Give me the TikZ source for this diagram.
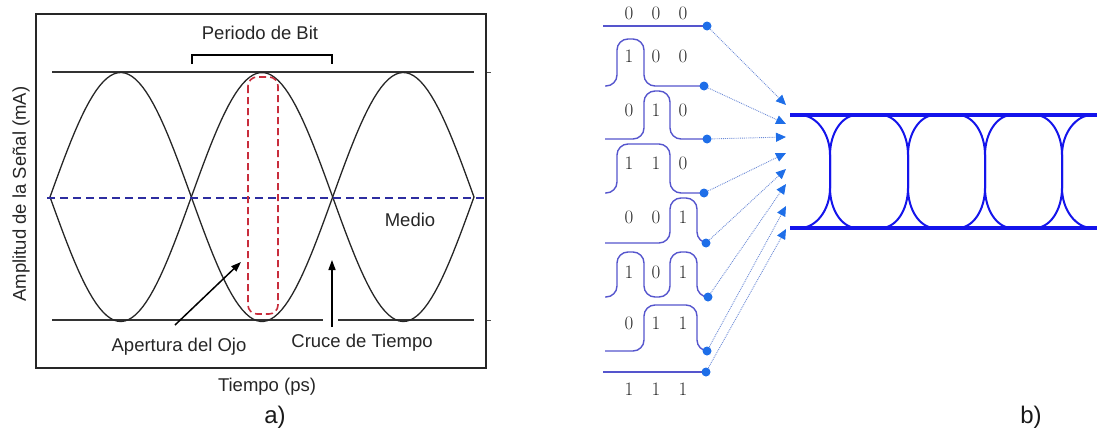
\documentclass[tikz,border=0pt]{standalone}
\usepackage{fontspec}
\newfontfamily\labelfont{Liberation Sans}
\usepackage{tikz}
\usetikzlibrary{arrows.meta}
\usepackage{xcolor}

\definecolor{midnavy}{RGB}{45,45,160}
\definecolor{eyered}{RGB}{200,45,60}
\definecolor{wavecol}{RGB}{85,85,205}
\definecolor{dotcol}{RGB}{30,110,232}
\definecolor{feedcol}{RGB}{110,140,215}
\definecolor{eyeblue}{RGB}{20,20,235}

\begin{document}
\begin{tikzpicture}[x=1pt,y=-1pt,
    lbl/.style={font=\labelfont\fontsize{18.5}{22}\selectfont, text=black!85},
    tag/.style={font=\labelfont\fontsize{24}{28}\selectfont, text=black!90},
    bit/.style={font=\fontsize{19}{22}\selectfont, text=black!85, inner sep=0pt},
    wave/.style={wavecol, line width=1.4pt, rounded corners=11pt},
    dot/.style={circle, fill=dotcol, inner sep=0pt, minimum size=9pt},
    feed/.style={feedcol, densely dotted, line width=0.9pt,
        -{Triangle[length=10pt,width=9pt,color=dotcol]}},
    pointer/.style={black, line width=1.5pt, -{Triangle[length=10pt,width=7pt]}},
    eye/.style={eyeblue, line width=2pt},
    rail/.style={eyeblue, line width=3.5pt}]
    \useasboundingbox (0,0) rectangle (1097,431);

    % a) eye diagram sketch
    \draw[line width=1.6pt, black!85] (36,14) rectangle (486,368);
    \draw[line width=1.8pt, black!80] (52,72) -- (474,72);
    \draw[line width=1.6pt, black!80] (52,320) -- (323,320);
    \draw[line width=1.6pt, black!80] (338,320) -- (474,320);
    \draw[black!70] (487,72) -- (491,72);
    \draw[black!70] (487,320) -- (491,320);

    \draw[line width=1.3pt, black!85, domain=50:474, samples=120]
        plot (\x, {197 - 124.5*sin((\x-50)/141.33*180)});
    \draw[line width=1.3pt, black!85, domain=50:474, samples=120]
        plot (\x, {197 + 124.5*sin((\x-50)/141.33*180)});

    \draw[midnavy, line width=2pt, dash pattern=on 8pt off 5pt] (47,198) -- (485,198);
    \draw[eyered, line width=1.6pt, dash pattern=on 7pt off 4pt, rounded corners=9pt]
        (248,77) rectangle (278,314);

    \draw[line width=1.2pt] (192,64) -- (192,55) -- (332,55) -- (332,64);
    \node[lbl] (period) at (260,33) {Periodo de Bit};
    \node[lbl] (medio) at (410,220) {Medio};
    \node[lbl] (ojo) at (179,347) {Apertura del Ojo};
    \node[lbl] (cruce) at (362,343) {Cruce de Tiempo};
    \node[lbl] (tiempo) at (267,387) {Tiempo (ps)};
    \node[lbl, rotate=90] (amplitud) at (21,194) {Amplitud de la Señal (mA)};
    \node[tag] (tagA) at (275,417) {a)};

    \coordinate (ojoTail) at (175,325);
    \coordinate (ojoTip) at (241,262);
    \coordinate (cruceTail) at (332,327);
    \coordinate (cruceTip) at (332,260);
    \draw[pointer] (ojoTail) -- (ojoTip);
    \draw[pointer] (cruceTail) -- (cruceTip);

    % b) bit patterns
    \draw[wave] (603,26) -- (707,26);
    \draw[wave] (605,86) -- (617,86) -- (617,39) -- (644,39) -- (644,86) -- (704,86);
    \draw[wave] (605,139) -- (644,139) -- (644,91) -- (670,91) -- (670,139) -- (707,139);
    \draw[wave] (605,193) -- (617,193) -- (617,144) -- (670,144) -- (670,193) -- (704,193);
    \draw[wave] (605,243) -- (670,243) -- (670,198) -- (697,198) -- (697,243) -- (706,243);
    \draw[wave] (605,297) -- (617,297) -- (617,252) -- (644,252) -- (644,297)
        -- (670,297) -- (670,252) -- (697,252) -- (697,297) -- (708,297);
    \draw[wave] (605,351) -- (644,351) -- (644,305) -- (697,305) -- (697,351) -- (707,351);
    \draw[wave] (603,372) -- (706,372);

    \foreach \y/\a/\b/\c [count=\r] in {13/0/0/0, 56/1/0/0, 110/0/1/0, 163/1/1/0,
                                       217/0/0/1, 272/1/0/1, 323/0/1/1, 389/1/1/1} {
        \node[bit] (r\r a) at (629,\y) {\a};
        \node[bit] (r\r b) at (656,\y) {\b};
        \node[bit] (r\r c) at (683,\y) {\c};
    }

    \foreach \x/\y/\t [count=\i] in {707/26/105, 704/86/124, 707/139/137, 704/193/153,
                                     706/243/169, 708/297/184, 707/351/206, 706/372/229} {
        \node[dot] (d\i) at (\x,\y) {};
        \coordinate (t\i) at (786,\t);
        \draw[feed] (d\i) -- (t\i);
    }

    % eye
    \draw[rail] (790,115) -- (1097,115);
    \draw[rail] (790,228) -- (1097,228);
    \draw[eye] (800,115) .. controls (816,115) and (830,133) .. (830,155) -- (830,188)
        .. controls (830,210) and (816,228) .. (800,228);
    \foreach \l/\r in {830/908, 908/985, 985/1062} {
        \draw[eye] (\l,155) -- (\l,188) .. controls (\l,210) and (\l+12,228) .. (\l+27,228)
            -- (\r-27,228) .. controls (\r-12,228) and (\r,210) .. (\r,188)
            -- (\r,155) .. controls (\r,133) and (\r-12,115) .. (\r-27,115)
            -- (\l+27,115) .. controls (\l+12,115) and (\l,133) .. (\l,155) -- cycle;
    }
    \draw[eye] (1092,115) .. controls (1076,115) and (1062,133) .. (1062,155) -- (1062,188)
        .. controls (1062,210) and (1076,228) .. (1092,228);

    \node[tag] (tagB) at (1031,417) {b)};
\end{tikzpicture}
\end{document}
